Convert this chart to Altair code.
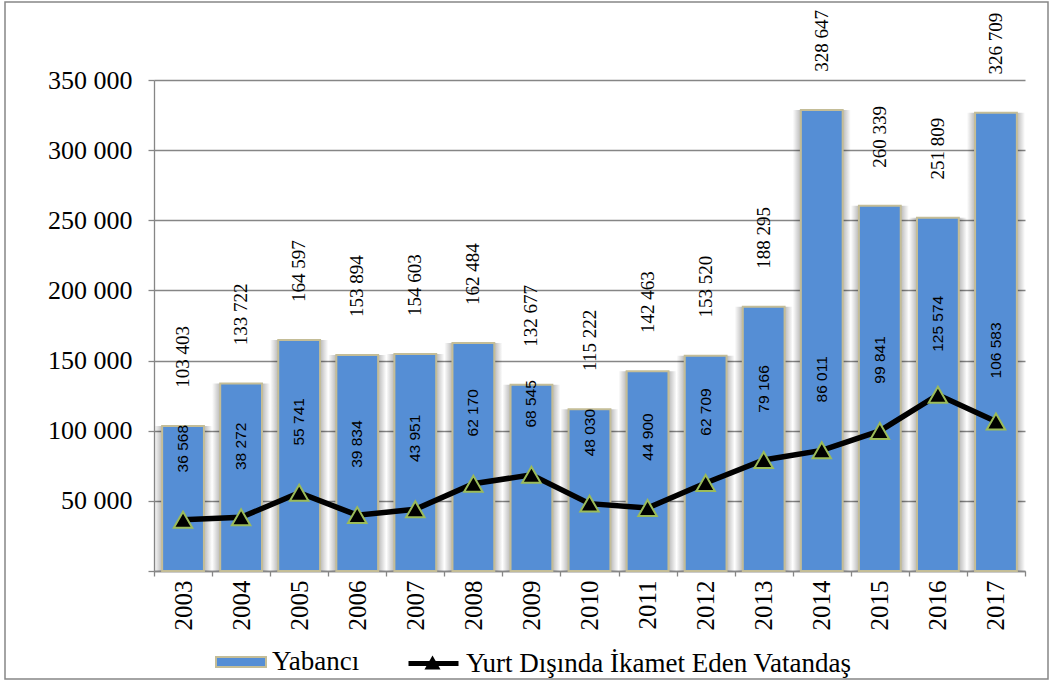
import altair as alt
import pandas as pd

years = [str(y) for y in range(2003, 2018)]
yabanci = [103403, 133722, 164597, 153894, 154603, 162484, 132677, 115222,
           142463, 153520, 188295, 328647, 260339, 251809, 326709]
vatandas = [36568, 38272, 55741, 39834, 43951, 62170, 68545, 48030,
            44900, 62709, 79166, 86011, 99841, 125574, 106583]
y_ticks = [0, 50000, 100000, 150000, 200000, 250000, 300000, 350000]
series_names = ["Yabancı", "Yurt Dışında İkamet Eden Vatandaş"]
marker_key = "marker"


def fmt(v):
    return f"{v:,}".replace(",", " ")


df = pd.DataFrame({
    "year": years,
    "yabanci": yabanci,
    "vatandas": vatandas,
    "lab_y": [fmt(v) for v in yabanci],
    "lab_v": [fmt(v) for v in vatandas],
    "s1": series_names[0],
    "s2": series_names[1],
    "s3": marker_key,
})

W, H = 871, 491
GREY = "#868686"
SERIF = "Liberation Serif, DejaVu Serif, serif"
SANS = "Liberation Sans, Arial, sans-serif"
LEG_FS = 27

x_axis = alt.Axis(title=None, labelAngle=-90, labelFont=SERIF, labelFontSize=25,
                  labelColor="black", domainColor=GREY, domainWidth=1.3,
                  tickColor=GREY, tickWidth=1.3, tickSize=5, tickBand="extent",
                  labelPadding=4, grid=False)
x = alt.X("year:N", sort=years, scale=alt.Scale(paddingInner=0, paddingOuter=0), axis=x_axis)

y_scale = alt.Scale(domain=[0, 350000], nice=False)
y_axis = alt.Axis(title=None, values=y_ticks,
                  labelExpr="datum.value == 0 ? '' : replace(format(datum.value, ','), ',', ' ')",
                  labelFont=SERIF, labelFontSize=26, labelColor="black", labelPadding=16,
                  domainColor=GREY, domainWidth=1.3, tickColor=GREY, tickWidth=1.3,
                  tickSize=6, grid=True, gridColor=GREY, gridWidth=1.3)


def Y(field):
    return alt.Y(field, scale=y_scale, axis=y_axis)


base = alt.Chart(df)

frame = alt.Chart(pd.DataFrame({"a": [0]})).mark_rect(
    fill="transparent", stroke=GREY, strokeWidth=1.5
).encode(x=alt.value(-149), x2=alt.value(894), y=alt.value(-78), y2=alt.value(599))

shadow = base.mark_bar(
    color=alt.Gradient(
        gradient="linear", x1=0, x2=1, y1=0, y2=0,
        stops=[
            alt.GradientStop(offset=0, color="rgba(0,0,0,0)"),
            alt.GradientStop(offset=0.14, color="rgba(0,0,0,0.28)"),
            alt.GradientStop(offset=0.86, color="rgba(0,0,0,0.28)"),
            alt.GradientStop(offset=1, color="rgba(0,0,0,0)"),
        ],
    )
).encode(x=x, y=Y("yabanci:Q"))

bars = base.mark_bar(
    width=alt.RelativeBandSize(0.72), stroke="#C4BD97", strokeWidth=2
).encode(
    x=x, y=Y("yabanci:Q"),
    color=alt.Color("s1:N", scale=alt.Scale(domain=[series_names[0]], range=["#558ED5"]),
                    legend=alt.Legend(title=None, orient="none", legendX=61, legendY=556,
                                      symbolType="M-1,-0.2H1V0.2H-1Z", symbolSize=2500,
                                      symbolStrokeColor="#C4BD97", symbolStrokeWidth=2,
                                      labelFont=SERIF, labelFontSize=LEG_FS, labelColor="black",
                                      labelOffset=5, labelLimit=700, padding=0)),
)

bar_text = base.mark_text(
    angle=270, dx=69, align="center", baseline="middle",
    font=SERIF, fontSize=19, color="black"
).encode(x=x, y=Y("yabanci:Q"), text="lab_y:N")

line = base.mark_line(color="black", strokeWidth=5.5).encode(
    x=x, y=Y("vatandas:Q"),
    stroke=alt.Stroke("s2:N", scale=alt.Scale(domain=[series_names[1]], range=["black"]),
                      legend=alt.Legend(title=None, orient="none", legendX=252, legendY=556,
                                        symbolType="stroke", symbolSize=2500,
                                        symbolStrokeWidth=5, symbolStrokeColor="black",
                                        labelFont=SERIF, labelFontSize=LEG_FS, labelColor="black",
                                        labelOffset=5, labelLimit=700, padding=0)),
)

points = base.mark_point(
    filled=True, fill="black", stroke="#9BBB59", strokeWidth=2, size=340, opacity=1
).encode(
    x=x, y=Y("vatandas:Q"),
    shape=alt.Shape("s3:N", scale=alt.Scale(domain=[marker_key], range=["triangle-up"]),
                    legend=alt.Legend(title=None, orient="none", legendX=269, legendY=573,
                                      symbolSize=260, symbolFillColor="black",
                                      symbolStrokeColor="#9BBB59", symbolStrokeWidth=2,
                                      labelExpr="''", labelFontSize=1, padding=0)),
)

line_text = base.mark_text(
    angle=270, dx=71, align="center", baseline="middle",
    font=SANS, fontSize=15.5, color="black"
).encode(x=x, y=Y("vatandas:Q"), text="lab_v:N")

chart = alt.layer(frame, shadow, bars, bar_text, line, points, line_text).properties(
    width=W, height=H,
    autosize=alt.AutoSizeParams(type="none"),
    padding={"left": 154, "top": 80, "right": 26, "bottom": 113},
    background="white",
).configure_view(stroke="transparent")

chart.save("out.html", embed_options={"renderer": "svg", "actions": False})
